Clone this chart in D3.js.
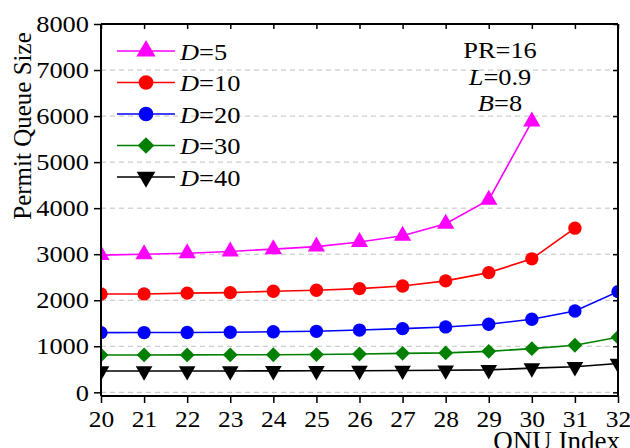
<!DOCTYPE html>
<html>
<head>
<meta charset="utf-8">
<script src="https://cdn.jsdelivr.net/npm/d3@7"></script>
<style>
  body { margin: 0; background: #fff; }
  svg text { font-family: "Liberation Serif", "Times New Roman", serif; fill: #000; }
</style>
</head>
<body>
<svg id="chart" width="630" height="448"></svg>
<script>
// ONU index on the x axis
var onuIndex = [20, 21, 22, 23, 24, 25, 26, 27, 28, 29, 30, 31, 32];

// permit queue size per delay bound D
var seriesD5  = [2980, 3000, 3020, 3060, 3110, 3165, 3265, 3400, 3660, 4180, 5880];
var seriesD10 = [2135, 2137, 2155, 2165, 2195, 2217, 2252, 2310, 2420, 2600, 2900, 3565];
var seriesD20 = [1296, 1298, 1300, 1305, 1315, 1325, 1352, 1383, 1420, 1478, 1587, 1767, 2187];
var seriesD30 = [811, 812, 813, 815, 816, 820, 833, 846, 856, 890, 948, 1022, 1196];
var seriesD40 = [462, 462, 463, 464, 466, 468, 470, 474, 480, 488, 525, 555, 625];

var seriesNames = ['D=5', 'D=10', 'D=20', 'D=30', 'D=40'];
var yTicks = [0, 1000, 2000, 3000, 4000, 5000, 6000, 7000, 8000];

var series = [
  {label: '5',  values: seriesD5,  color: '#ff00ff', shape: d3.symbolTriangle, size: 130, rot: 0},
  {label: '10', values: seriesD10, color: '#ff0000', shape: d3.symbolCircle,   size: 140, rot: 0},
  {label: '20', values: seriesD20, color: '#0000ff', shape: d3.symbolCircle,   size: 140, rot: 0},
  {label: '30', values: seriesD30, color: '#008000', shape: d3.symbolSquare,   size: 110, rot: 45},
  {label: '40', values: seriesD40, color: '#000000', shape: d3.symbolTriangle, size: 120, rot: 180}
];

// the original fonts are a bit wider than Liberation Serif
function stretch(sel, k) {
  sel.each(function() {
    var w = this.getComputedTextLength();
    d3.select(this).attr('textLength', w * k).attr('lengthAdjust', 'spacingAndGlyphs');
  });
}

var svg = d3.select('#chart');
var margin = {left: 101, right: 12, top: 24, bottom: 52};
var width = 630 - margin.left - margin.right;
var height = 448 - margin.top - margin.bottom;

var x = d3.scaleLinear().domain([20, 32]).range([0, width]);
var y = d3.scaleLinear().domain([-80, 8000]).range([height, 0]);

var g = svg.append('g').attr('transform', 'translate(' + margin.left + ',' + margin.top + ')');

// dashed grid lines
g.append('g')
  .selectAll('line')
  .data(yTicks.filter(function(t) { return t < 8000; }))
  .join('line')
  .attr('x1', 0).attr('x2', width)
  .attr('y1', function(d) { return y(d); })
  .attr('y2', function(d) { return y(d); })
  .attr('stroke', '#c0c0c0')
  .attr('stroke-width', 1)
  .attr('stroke-dasharray', '5,4');

// clip lines and markers to the frame
svg.append('defs').append('clipPath').attr('id', 'plotClip')
  .append('rect').attr('x', 0).attr('y', 0).attr('width', width).attr('height', height);

var plot = g.append('g').attr('clip-path', 'url(#plotClip)');

var line = d3.line()
  .x(function(d, i) { return x(onuIndex[i]); })
  .y(function(d) { return y(d); });

series.forEach(function(s) {
  plot.append('path')
    .datum(s.values)
    .attr('fill', 'none')
    .attr('stroke', s.color)
    .attr('stroke-width', 1.6)
    .attr('d', line);

  plot.selectAll(null)
    .data(s.values)
    .join('path')
    .attr('d', d3.symbol().type(s.shape).size(s.size))
    .attr('fill', s.color)
    .attr('transform', function(d, i) {
      return 'translate(' + x(onuIndex[i]) + ',' + y(d) + ') rotate(' + s.rot + ')';
    });
});

// axes: outer ticks on left/bottom, inner ticks on top/right
var fontSize = '24px';
var xAxis = g.append('g').attr('transform', 'translate(0,' + height + ')')
  .call(d3.axisBottom(x).tickValues(onuIndex).tickFormat(d3.format('d')).tickSizeOuter(0).tickSize(7).tickPadding(7));
var yAxis = g.append('g')
  .call(d3.axisLeft(y).tickValues(yTicks).tickFormat(d3.format('d')).tickSizeOuter(0).tickSize(7).tickPadding(5));
var topAxis = g.append('g')
  .call(d3.axisBottom(x).tickValues(onuIndex).tickFormat('').tickSizeOuter(0).tickSize(5));
var rightAxis = g.append('g').attr('transform', 'translate(' + width + ',0)')
  .call(d3.axisLeft(y).tickValues(yTicks).tickFormat('').tickSizeOuter(0).tickSize(5));

[xAxis, yAxis, topAxis, rightAxis].forEach(function(a) {
  a.attr('font-family', 'Liberation Serif').attr('font-size', 24);
  a.select('.domain').attr('stroke', '#000').attr('stroke-width', 2);
  a.selectAll('.tick line').attr('stroke', '#000').attr('stroke-width', 1.5);
  a.selectAll('text').attr('fill', '#000');
});
topAxis.select('.domain').attr('d', 'M0,0H' + width);
rightAxis.select('.domain').attr('d', 'M0,0V' + height);
yAxis.select('.domain').attr('d', 'M0,0V' + height);
xAxis.select('.domain').attr('d', 'M0,0H' + width);
stretch(xAxis.selectAll('text'), 1.06);
stretch(yAxis.selectAll('text'), 1.1);

// axis titles
svg.append('text')
  .attr('transform', 'translate(31,126) rotate(-90)')
  .attr('text-anchor', 'middle')
  .style('font-size', '25px')
  .text('Permit Queue Size');

svg.append('text')
  .attr('x', 620).attr('y', 450)
  .attr('text-anchor', 'end')
  .style('font-size', '27px')
  .text('ONU Index');

// legend
var legend = svg.append('g').attr('transform', 'translate(117,51)');
series.forEach(function(s, i) {
  var row = legend.append('g').attr('transform', 'translate(0,' + (i * 31.5) + ')');
  row.append('line').attr('x1', 0).attr('x2', 58).attr('y1', 0).attr('y2', 0)
    .attr('stroke', s.color).attr('stroke-width', 1.6);
  row.append('path')
    .attr('d', d3.symbol().type(s.shape).size(s.size + 30))
    .attr('fill', s.color)
    .attr('transform', 'translate(29,0) rotate(' + s.rot + ')');
  var t = row.append('text').attr('x', 63).attr('y', 8.5).style('font-size', fontSize);
  t.append('tspan').style('font-style', 'italic').text(seriesNames[i].split('=')[0]);
  t.append('tspan').text('=' + s.label);
  stretch(t, 1.1);
});

// parameter note
var note = svg.append('g').attr('text-anchor', 'middle').style('font-size', fontSize);
note.append('text').attr('x', 500).attr('y', 58).text('PR=16');
var n2 = note.append('text').attr('x', 500).attr('y', 85);
n2.append('tspan').style('font-style', 'italic').text('L');
n2.append('tspan').text('=0.9');
var n3 = note.append('text').attr('x', 500).attr('y', 111);
n3.append('tspan').style('font-style', 'italic').text('B');
n3.append('tspan').text('=8');
stretch(note.selectAll('text'), 1.1);
</script>
</body>
</html>
